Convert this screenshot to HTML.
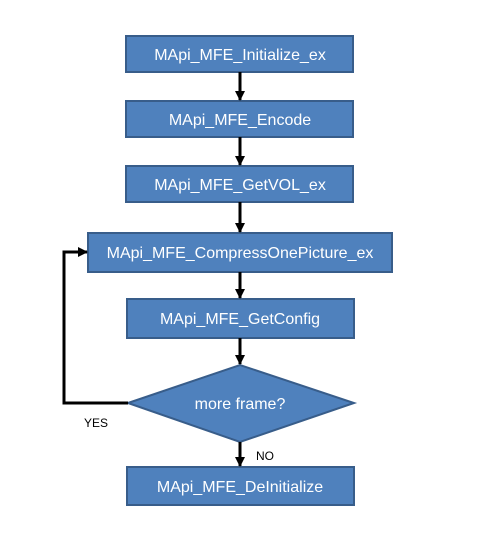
<!DOCTYPE html>
<html><head><style>body{margin:0;background:#fff}</style></head><body>
<svg width="480" height="540" xmlns="http://www.w3.org/2000/svg" style="display:block">
<defs><marker id="a" markerWidth="10" markerHeight="10" refX="9" refY="5" orient="auto" markerUnits="userSpaceOnUse"><path d="M0,0 L10,5 L0,10 z" fill="#000"/></marker></defs>
<g fill="#4f81bd" stroke="#385d8a" stroke-width="2">
<rect x="126" y="36" width="227" height="36"/>
<rect x="126" y="101" width="227" height="36"/>
<rect x="126" y="166" width="227" height="36"/>
<rect x="88" y="233" width="304" height="39"/>
<rect x="127" y="299" width="227" height="39"/>
<polygon points="128,403 240,365 354,403 240,442"/>
<rect x="127" y="467" width="227" height="38"/>
</g>
<g stroke="#000" stroke-width="3" fill="none">
<line x1="240" y1="72" x2="240" y2="100" marker-end="url(#a)"/>
<line x1="240" y1="137" x2="240" y2="165" marker-end="url(#a)"/>
<line x1="240" y1="202" x2="240" y2="232" marker-end="url(#a)"/>
<line x1="240" y1="272" x2="240" y2="298" marker-end="url(#a)"/>
<line x1="240" y1="338" x2="240" y2="364" marker-end="url(#a)"/>
<line x1="240" y1="442" x2="240" y2="466" marker-end="url(#a)"/>
<polyline points="128,403 64,403 64,252 87,252" marker-end="url(#a)"/>
</g>
<g font-family="Liberation Sans, sans-serif" font-size="16" fill="#fff" text-anchor="middle">
<text x="240" y="60">MApi_MFE_Initialize_ex</text>
<text x="240" y="125">MApi_MFE_Encode</text>
<text x="240" y="190">MApi_MFE_GetVOL_ex</text>
<text x="240" y="258">MApi_MFE_CompressOnePicture_ex</text>
<text x="240" y="324">MApi_MFE_GetConfig</text>
<text x="240" y="409">more frame?</text>
<text x="240" y="492">MApi_MFE_DeInitialize</text>
</g>
<g font-family="Liberation Sans, sans-serif" font-size="12" fill="#000">
<text x="84" y="427">YES</text>
<text x="256" y="460">NO</text>
</g>
</svg>
</body></html>
